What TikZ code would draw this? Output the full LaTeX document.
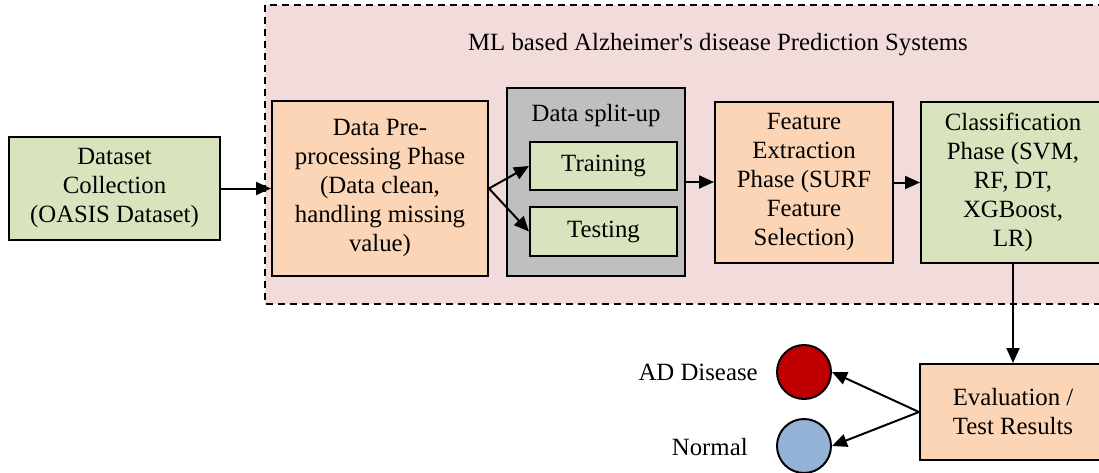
\documentclass[tikz,border=0pt]{standalone}
\usepackage{fontspec}
\setmainfont{Liberation Serif}
\usetikzlibrary{arrows.meta, positioning}
\definecolor{boxorange}{HTML}{FBD5B5}
\definecolor{boxgreen}{HTML}{D7E4BD}
\definecolor{boxgray}{HTML}{BFBFBF}
\definecolor{sysback}{HTML}{F2DCDB}
\definecolor{adred}{HTML}{C00000}
\definecolor{normblue}{HTML}{95B3D7}

\begin{document}
\begin{tikzpicture}[x=1pt, y=-1pt, font=\rmfamily\fontsize{24.8}{29}\selectfont,
    >={Triangle[length=15pt,width=13pt]}, line width=2pt,
    box/.style={draw, align=center, inner sep=0pt},
    dot/.style={draw, circle, minimum size=54pt, inner sep=0pt}]
    \useasboundingbox (0,0) rectangle (1099,473);
    \clip (0,0) rectangle (1099,473);

    % system frame
    \draw[dash pattern=on 7pt off 5pt, fill=sysback] (265,5) rectangle (1130,304);
    \node (systitle) at (718,45) {ML based Alzheimer\textquotesingle s disease Prediction Systems};

    \node[box, fill=boxgreen, minimum width=211pt, minimum height=103pt] (collect) at (114.5,188.5) {Dataset\\Collection\\(OASIS Dataset)};
    \node[box, fill=boxorange, minimum width=216pt, minimum height=175pt] (prep) at (380,188.5) {Data Pre-\\processing Phase\\(Data clean,\\handling missing\\value)};
    \node[box, fill=boxgray, minimum width=178pt, minimum height=188pt] (split) at (596,182) {};
    \node (splittitle) at (596,116) {Data split-up};
    \node[box, fill=boxgreen, minimum width=147pt, minimum height=48pt] (train) at (603.5,166) {Training};
    \node[box, fill=boxgreen, minimum width=147pt, minimum height=49pt] (test) at (603.5,231.5) {Testing};
    \node[box, fill=boxorange, minimum width=178pt, minimum height=161pt] (feat) at (804,182.5) {Feature\\Extraction\\Phase (SURF\\Feature\\Selection)};
    \node[box, fill=boxgreen, minimum width=184pt, minimum height=161pt] (classify) at (1013,182.5) {Classification\\Phase (SVM,\\RF, DT,\\XGBoost,\\LR)};
    \node[box, fill=boxorange, minimum width=186pt, minimum height=96pt] (eval) at (1013,412) {Evaluation /\\Test Results};
    \node[dot, fill=adred] (ad) at (804,372) {};
    \node[dot, fill=normblue] (normal) at (804,446) {};
    \node[anchor=east] (adlabel) at (762,372) {AD Disease};
    \node[anchor=east] (normlabel) at (752,447) {Normal};

    \draw[->] (collect) -- (prep);
    \draw[->] (prep.east) -- (train.west);
    \draw[->] (prep.east) -- (test.west);
    \draw[->] (split.east) -- (feat.west |- split.east);
    \draw[->] (feat) -- (classify);
    \draw[->] (classify) -- (eval);
    \draw[->] (eval.west) -- (ad.east);
    \draw[->] (eval.west) -- (normal.east);
\end{tikzpicture}
\end{document}
